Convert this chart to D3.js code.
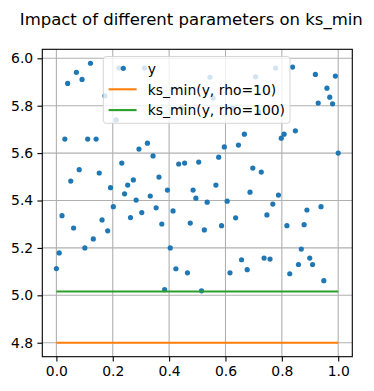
<!DOCTYPE html>
<html>
<head>
<meta charset="utf-8">
<script src="https://cdn.jsdelivr.net/npm/d3@7"></script>
<style>
  html, body { margin: 0; padding: 0; background: #fff; }
  svg { display: block; }
  text { font-family: "DejaVu Sans", sans-serif; fill: #000; }
</style>
</head>
<body>
<svg id="chart" width="374" height="391"></svg>
<script>
// ---- data ----
const xs = [0.000,0.010,0.020,0.030,0.040,0.051,0.061,0.071,0.081,0.091,
            0.101,0.111,0.121,0.131,0.141,0.152,0.162,0.172,0.182,0.192,
            0.202,0.212,0.222,0.232,0.242,0.253,0.263,0.273,0.283,0.293,
            0.303,0.313,0.323,0.333,0.343,0.354,0.364,0.374,0.384,0.394,
            0.404,0.414,0.424,0.434,0.444,0.455,0.465,0.475,0.485,0.495,
            0.505,0.515,0.525,0.535,0.545,0.556,0.566,0.576,0.586,0.596,
            0.606,0.616,0.626,0.636,0.646,0.657,0.667,0.677,0.687,0.697,
            0.707,0.717,0.727,0.737,0.747,0.758,0.768,0.778,0.788,0.798,
            0.808,0.818,0.828,0.838,0.848,0.859,0.869,0.879,0.889,0.899,
            0.909,0.919,0.929,0.939,0.949,0.960,0.970,0.980,0.990,1.000];
const ys = [5.113,5.179,5.336,5.659,5.894,5.482,5.284,5.941,5.530,5.911,
            5.200,5.659,5.979,5.238,5.659,5.516,5.318,5.842,5.272,5.454,
            5.374,5.740,5.959,5.558,5.428,5.465,5.328,5.487,5.402,5.617,
            5.349,5.959,5.642,5.419,5.588,5.369,5.499,5.301,5.024,5.444,
            5.200,5.356,5.112,5.554,5.790,5.558,5.095,5.305,5.444,5.410,
            5.562,5.019,5.276,5.393,5.920,5.832,5.465,5.583,5.294,5.626,
            5.397,5.095,5.790,5.327,5.634,5.150,5.680,5.108,5.435,5.537,
            5.922,5.775,5.520,5.157,5.339,5.153,5.385,5.959,5.423,5.663,
            5.680,5.294,5.091,5.963,5.694,5.130,5.195,5.298,5.360,5.157,
            5.130,5.932,5.811,5.374,5.062,5.874,5.836,5.808,5.925,5.600];
const lineX = [0, 1];
const rho10 = [4.8, 4.8];
const rho100 = [5.016, 5.016];
const xTicks = [0.0, 0.2, 0.4, 0.6, 0.8, 1.0];
const yTicks = [4.8, 5.0, 5.2, 5.4, 5.6, 5.8, 6.0];
const seriesNames = ["y", "ks_min(y, rho=10)", "ks_min(y, rho=100)"];
const colors = ["#1f77b4", "#ff7f0e", "#2ca02c"];
const title = "Impact of different parameters on ks_min";

// ---- layout ----
const W = 374, H = 391;
const m = { left: 42.3, top: 49.3, right: 374 - 352.3, bottom: 391 - 356.7 };
const pw = W - m.left - m.right, ph = H - m.top - m.bottom;

const svg = d3.select("#chart");

// matplotlib-like 5% margins
function padded(ext) { const r = ext[1] - ext[0]; return [ext[0] - 0.05 * r, ext[1] + 0.05 * r]; }
const xExt = d3.extent(xs.concat(lineX));
const yExt = d3.extent(ys.concat(rho10, rho100));
const x = d3.scaleLinear().domain(padded(xExt)).range([m.left, m.left + pw]);
const y = d3.scaleLinear().domain(padded(yExt)).range([m.top + ph, m.top]);

// title
svg.append("text")
  .attr("x", 191.3).attr("y", 25)
  .attr("text-anchor", "middle")
  .style("font-size", "16.5px")
  .text(title);

// grid
const g = svg.append("g");
g.selectAll("line.gx").data(xTicks).join("line")
  .attr("x1", d => x(d)).attr("x2", d => x(d))
  .attr("y1", m.top).attr("y2", m.top + ph)
  .attr("stroke", "#b0b0b0").attr("stroke-width", 1.1);
g.selectAll("line.gy").data(yTicks).join("line")
  .attr("y1", d => y(d)).attr("y2", d => y(d))
  .attr("x1", m.left).attr("x2", m.left + pw)
  .attr("stroke", "#b0b0b0").attr("stroke-width", 1.1);

// axes
const xAxis = d3.axisBottom(x).tickValues(xTicks).tickFormat(d3.format(".1f"))
  .tickSizeInner(4.9).tickSizeOuter(0).tickPadding(4.2);
const yAxis = d3.axisLeft(y).tickValues(yTicks).tickFormat(d3.format(".1f"))
  .tickSizeInner(4.9).tickSizeOuter(0).tickPadding(4.2);
const ax = svg.append("g").attr("transform", `translate(0,${m.top + ph})`).call(xAxis);
const ay = svg.append("g").attr("transform", `translate(${m.left},0)`).call(yAxis);
[ax, ay].forEach(a => {
  a.select(".domain").remove();
  a.selectAll(".tick line").attr("stroke", "#000").attr("stroke-width", 1.1);
  a.selectAll(".tick text").style("font-size", "13.9px").style("font-family", "DejaVu Sans, sans-serif").attr("fill", "#000");
});

// scatter
svg.append("g").selectAll("circle").data(xs).join("circle")
  .attr("cx", (d) => x(d)).attr("cy", (d, i) => y(ys[i]))
  .attr("r", 2.6).attr("fill", colors[0]);

// lines
const line = d3.line().x(d => x(d[0])).y(d => y(d[1]));
[rho10, rho100].forEach((s, k) => {
  svg.append("path")
    .datum(lineX.map((v, i) => [v, s[i]]))
    .attr("d", line).attr("fill", "none")
    .attr("stroke", colors[k + 1]).attr("stroke-width", 2.1);
});

// frame
svg.append("rect").attr("x", m.left).attr("y", m.top).attr("width", pw).attr("height", ph)
  .attr("fill", "none").attr("stroke", "#000").attr("stroke-width", 1.1);

// legend
const lg = svg.append("g");
const lx = 103.3, ly = 56.5, lw = 186.7, lh = 66.8;
lg.append("rect").attr("x", lx).attr("y", ly).attr("width", lw).attr("height", lh)
  .attr("rx", 2.8).attr("fill", "#fff").attr("fill-opacity", 0.8)
  .attr("stroke", "#cccccc").attr("stroke-opacity", 0.8).attr("stroke-width", 1);
const rowY = [68.3, 89.3, 110.1];
seriesNames.forEach((name, i) => {
  if (i === 0) {
    lg.append("circle").attr("cx", 123.3).attr("cy", rowY[i]).attr("r", 2.6).attr("fill", colors[0]);
  } else {
    lg.append("line").attr("x1", 108.6).attr("x2", 136.6).attr("y1", rowY[i]).attr("y2", rowY[i])
      .attr("stroke", colors[i]).attr("stroke-width", 2.1);
  }
  lg.append("text").attr("x", 147.8).attr("y", rowY[i] + 5.2)
    .style("font-size", "13.9px").text(name);
});
</script>
</body>
</html>
